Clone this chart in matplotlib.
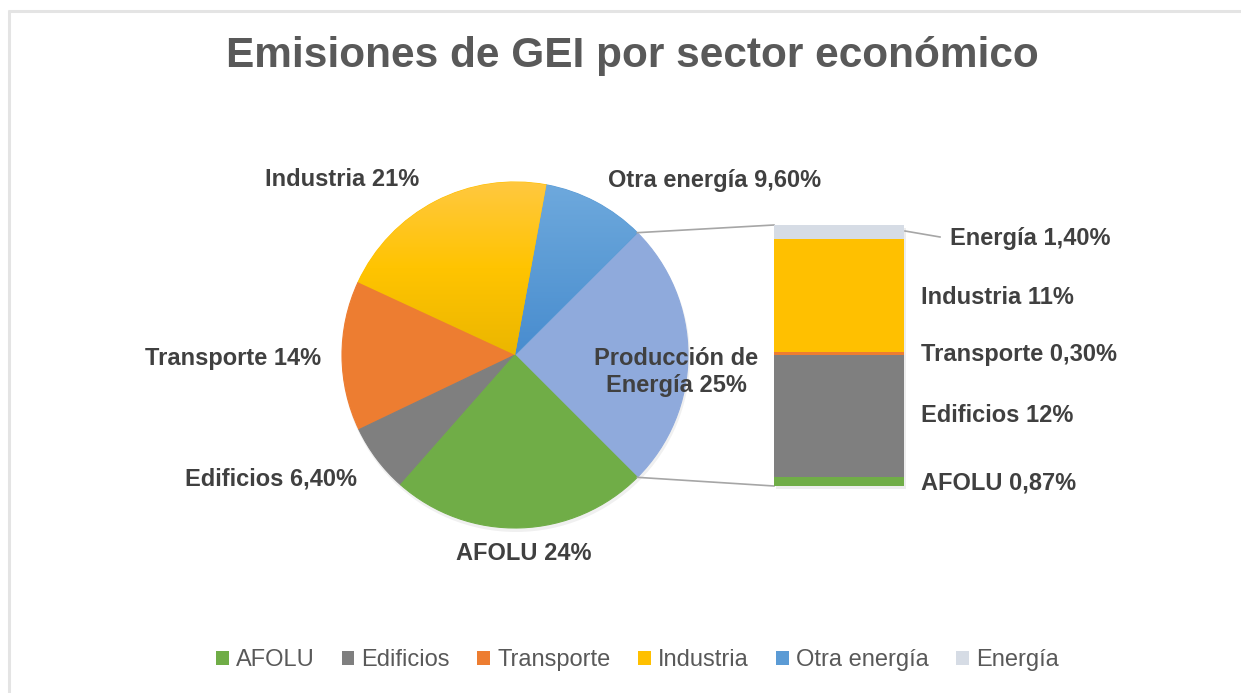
import matplotlib
matplotlib.use("Agg")
import matplotlib.pyplot as plt
from matplotlib.patches import Patch, Circle
from matplotlib.colors import to_rgb
import numpy as np

plt.rcParams['font.family'] = ['Liberation Sans', 'DejaVu Sans']

# ---------------- data ----------------
title = "Emisiones de GEI por sector económico"
pie_labels = ["Producción de\nEnergía", "Otra energía", "Industria", "Transporte", "Edificios", "AFOLU"]
pie_values = [25, 9.6, 21, 14, 6.4, 24]
pie_colors = ["#8FAADC", "#5B9BD5", "#FFC000", "#ED7D31", "#7F7F7F", "#70AD47"]

bar_labels = ["AFOLU", "Edificios", "Transporte", "Industria", "Energía"]
bar_values = [0.87, 12, 0.3, 11, 1.4]
bar_colors = ["#70AD47", "#7F7F7F", "#ED7D31", "#FFC000", "#D6DCE5"]

legend_labels = ["AFOLU", "Edificios", "Transporte", "Industria", "Otra energía", "Energía"]
legend_colors = ["#70AD47", "#7F7F7F", "#ED7D31", "#FFC000", "#5B9BD5", "#D6DCE5"]

# gradient stops (top, middle, centre of pie) for the shaded slices
gradients = {
    "Otra energía": ["#6EA9DD", "#5B9BD5", "#488CCF"],
    "Industria": ["#FFC83F", "#FFC400", "#EBB600"],
}


def fmt(v):
    if float(v).is_integer():
        return f"{int(v)}%"
    return f"{v:.2f}%".replace(".", ",")


# ---------------- layout ----------------
W, H = 1241, 693
fig = plt.figure(figsize=(W / 100, H / 100), dpi=100)
fig.patch.set_facecolor("white")
ax = fig.add_axes([0, 0, 1, 1])


def Y(y):  # pixel row -> data y
    return H - y


# border
ax.plot([8, W], [Y(11), Y(11)], color="#E4E4E4", lw=2.2, solid_capstyle="butt")
ax.plot([9, 9], [Y(10), 0], color="#E4E4E4", lw=2.2, solid_capstyle="butt")

# title
ax.text(632, Y(56), title, ha="center", va="center", fontsize=30.5,
        fontweight="bold", color="#595959")

# pie
cx, cy, r = 515, Y(355), 173
start = -pie_values[0] / sum(pie_values) * 360 / 2
ax.add_patch(Circle((cx + 1, cy - 3), r + 1, color="#000000", alpha=0.06, lw=0, zorder=1))
wedges, _ = ax.pie(pie_values, colors=pie_colors, startangle=start, counterclock=True,
                   center=(cx, cy), radius=r, frame=True,
                   wedgeprops=dict(linewidth=0.8))
for w in wedges:
    w.set_zorder(2)
    w.set_edgecolor(w.get_facecolor())

for lab, w in zip(pie_labels, wedges):
    if lab in gradients:
        stops = np.array([to_rgb(c) for c in gradients[lab]])
        n = 200
        t = np.linspace(0, 1, n)  # 0 = bottom of pie, 1 = top
        tt = np.clip((t - 0.5) * 2, 0, 1)
        cols = np.empty((n, 3))
        for k in range(3):
            cols[:, k] = np.interp(tt, [0, 0.5, 1], stops[::-1, k])
        img = cols[:, None, :]
        im = ax.imshow(img, extent=(cx - r, cx + r, cy - r, cy + r), origin="lower",
                       aspect="auto", interpolation="bilinear", zorder=2.5)
        im.set_clip_path(w)

ax.set_xlim(0, W)
ax.set_ylim(0, H)
ax.set_aspect("equal")
ax.axis("off")

lab_col = "#404040"
lab_fs = 17
pie_label_pos = [(676, 372), (715, 180), (342, 180), (233, 358), (271, 479), (524, 554)]
for lab, val, (px, py) in zip(pie_labels, pie_values, pie_label_pos):
    ax.text(px, Y(py), f"{lab} {fmt(val)}", ha="center", va="center", fontsize=lab_fs,
            fontweight="bold", color=lab_col, linespacing=1.2, zorder=5)

# bar (pie-of-bar)
bx0, bx1, by_top, by_bot = 774, 904, 225, 486
ax.add_patch(plt.Rectangle((bx0 + 2, Y(by_bot) - 3), bx1 - bx0, by_bot - by_top,
                           color="#000000", alpha=0.07, lw=0, zorder=1))
bax = fig.add_axes([bx0 / W, (H - by_bot) / H, (bx1 - bx0) / W, (by_bot - by_top) / H])
total = sum(bar_values)
bottoms = np.concatenate([[0], np.cumsum(bar_values)[:-1]])
bax.bar([0] * len(bar_values), bar_values, bottom=bottoms, width=1.0,
        color=bar_colors, linewidth=0)
bax.set_xlim(-0.5, 0.5)
bax.set_ylim(0, total)
bax.axis("off")

# connectors from pie slice edges to bar corners
half = pie_values[0] / sum(pie_values) * 360 / 2
for ang, by in [(half, by_top), (-half, by_bot)]:
    px = cx + r * np.cos(np.radians(ang))
    py = cy + r * np.sin(np.radians(ang))
    ax.plot([px, bx0], [py, Y(by)], color="#A6A6A6", lw=1.2, zorder=3)

# bar labels
bar_label_y = [483, 416, 354, 297, 238]
for lab, val, ly in zip(bar_labels, bar_values, bar_label_y):
    x = 950 if lab == "Energía" else 921
    ax.text(x, Y(ly), f"{lab} {fmt(val)}", ha="left", va="center", fontsize=lab_fs,
            fontweight="bold", color=lab_col)
# leader for the top (small) segment
ax.plot([bx1 + 1, 940], [Y(231), Y(237)], color="#A6A6A6", lw=1.2)

# legend
handles = [Patch(facecolor=c, edgecolor="none") for c in legend_colors]
fig.legend(handles, legend_labels, loc="center", bbox_to_anchor=(0.5133, 1 - 660 / H),
           ncol=6, frameon=False, fontsize=17, handlelength=0.55, handleheight=0.55,
           handletextpad=0.3, columnspacing=1.15, labelcolor="#595959")

fig.savefig("out.png", dpi=100, facecolor="white")
